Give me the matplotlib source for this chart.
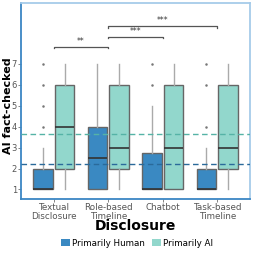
import matplotlib
matplotlib.use('Agg')
import matplotlib.pyplot as plt
from matplotlib.patches import Patch

categories = ['Textual\nDisclosure', 'Role-based\nTimeline', 'Chatbot', 'Task-based\nTimeline']
groups = ['Primarily Human', 'Primarily AI']

# box stats per category: [human, ai]
q1 = [[1, 2], [1, 2], [1, 1], [1, 2]]
med = [[1, 4], [2.5, 3], [1, 3], [1, 3]]
q3 = [[2, 6], [4, 6], [2.75, 6], [2, 6]]
wlo = [[1, 1], [1, 1], [1, 1], [1, 1]]
whi = [[3, 7], [7, 7], [5, 7], [3, 7]]
fliers = [[[4, 5, 6, 7], []], [[], []], [[6, 7], []], [[4, 6, 7], []]]

mean_human = 2.2
mean_ai = 3.63

brackets = [(0, 1, 7.81, '**'), (1, 2, 8.29, '***'), (1, 3, 8.81, '***')]

col_human = '#3a89c2'
col_ai = '#92d7cc'

fig = plt.figure(figsize=(2.54, 2.54), dpi=100)
ax = fig.add_axes([0.083, 0.217, 0.901, 0.771])

for g, color in enumerate([col_human, col_ai]):
    stats = []
    pos = []
    for i in range(len(categories)):
        stats.append({'q1': q1[i][g], 'med': med[i][g], 'q3': q3[i][g],
                      'whislo': wlo[i][g], 'whishi': whi[i][g],
                      'fliers': fliers[i][g]})
        pos.append(i + 1 + (g - 0.5) * 0.4)
    ax.bxp(stats, positions=pos, widths=0.36, patch_artist=True, showcaps=False,
           boxprops=dict(facecolor=color, edgecolor='#666666', linewidth=1.0),
           medianprops=dict(color='#333333', linewidth=1.2),
           whiskerprops=dict(color='#aaaaaa', linewidth=1.0),
           flierprops=dict(marker='o', markersize=1.8, markerfacecolor='#777777',
                           markeredgecolor='none'))

ax.axhline(mean_ai, color='#55b3a6', linestyle=(0, (4, 2.5)), linewidth=1.0, zorder=5)
ax.axhline(mean_human, color='#2a6a9a', linestyle=(0, (4, 2.5)), linewidth=1.0, zorder=5)

for a, b, y, label in brackets:
    ax.plot([a + 1, a + 1, b + 1, b + 1], [y - 0.08, y, y, y - 0.08],
            color='#555555', linewidth=0.9)
    ax.text((a + b) / 2 + 1, y + 0.05, label, ha='center', va='bottom',
            fontsize=5.5, color='#333333')

ax.set_xlim(0.4, 4.6)
ax.set_ylim(0.55, 9.9)
ax.set_yticks([1, 2, 3, 4, 5, 6, 7])
ax.set_xticks([1, 2, 3, 4])
ax.set_xticklabels(categories, fontsize=6.3, color='#555555', linespacing=0.95)
ax.tick_params(axis='y', labelsize=6, labelcolor='#555555', length=2, width=0.5, color='#555555', pad=1)
ax.tick_params(axis='x', length=2, width=0.5, color='#555555', pad=1)
ax.set_ylabel('AI fact-checked', fontsize=8, fontweight='bold', labelpad=1)
ax.yaxis.set_label_coords(-0.036, 0.475)
ax.set_xlabel('Disclosure', fontsize=10, fontweight='bold', labelpad=-1.5)

for s in ['left', 'bottom']:
    ax.spines[s].set_color('#3a86c4')
    ax.spines[s].set_linewidth(1.3)
for s in ['top', 'right']:
    ax.spines[s].set_color('#a6cbe9')
    ax.spines[s].set_linewidth(1.3)

handles = [Patch(facecolor=col_human, edgecolor='none'), Patch(facecolor=col_ai, edgecolor='none')]
fig.legend(handles, groups, loc='center', bbox_to_anchor=(0.54, 0.043), ncol=2,
           frameon=False, fontsize=6.3, handlelength=1.0, handleheight=1.0,
           handletextpad=0.3, columnspacing=0.8)

fig.savefig('out.png', dpi=100)
